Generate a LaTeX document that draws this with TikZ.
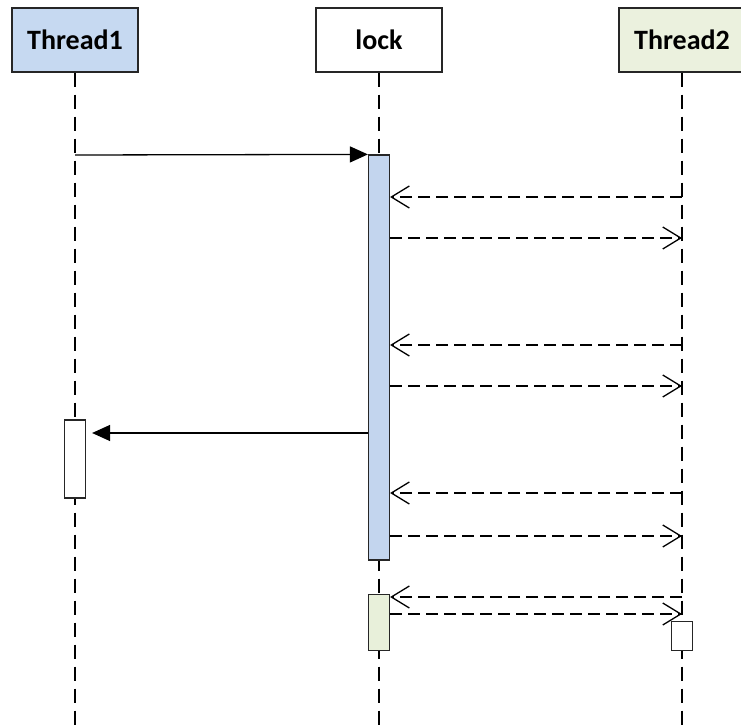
\documentclass[tikz,border=0pt]{standalone}
\usepackage{fontspec}
\setmainfont{Carlito}
\usetikzlibrary{arrows.meta}
\definecolor{hdrblue}{HTML}{C6D9F1}
\definecolor{hdrgreen}{HTML}{EBF1DE}
\definecolor{barblue}{HTML}{C3D5EE}
\definecolor{bargreen}{HTML}{E8F0DA}
\definecolor{edge}{HTML}{262626}
\tikzset{
  header/.style={draw=edge, line width=1.3pt, minimum width=126pt, minimum height=64pt,
    inner sep=0pt, font=\fontsize{28}{32}\selectfont\bfseries},
  lifeline/.style={draw=black, line width=1.3pt, dash pattern=on 14pt off 8pt},
  actbar/.style={draw=edge, line width=1.2pt, minimum width=21pt, inner sep=0pt},
  callmsg/.style={draw=black, line width=1.3pt, -{Triangle[length=18pt,width=16pt]}},
  replymsg/.style={draw=black, line width=1.3pt, dash pattern=on 12pt off 6pt,
    -{Straight Barb[length=18pt,width=22pt,line width=1.3pt]}},
}
\begin{document}
\begin{tikzpicture}[x=1pt, y=-1pt]
\useasboundingbox (0,0) rectangle (741,727);
\fill[white] (0,0) rectangle (741,727);

% participant headers
\node[header, fill=hdrblue]  (t1)   at (75,40)  {Thread1};
\node[header, fill=white]    (lock) at (379,40) {lock};
\node[header, fill=hdrgreen] (t2)   at (682,40) {Thread2};

% lifeline ends
\coordinate (t1end)   at (75,727);
\coordinate (lockend) at (379,727);
\coordinate (t2end)   at (682,727);

\draw[lifeline] (t1.south)   -- (t1end);
\draw[lifeline] (lock.south) -- (lockend);
\draw[lifeline] (t2.south)   -- (t2end);

% activation bars
\node[actbar, fill=barblue, minimum height=405pt]  (lockbar) at (379,357.5) {};
\node[actbar, fill=white, minimum height=78pt]     (t1bar)   at (75,459)    {};
\node[actbar, fill=bargreen, minimum height=56pt]  (lockbar2) at (379,622.5) {};
\node[actbar, fill=white, minimum height=29pt]     (t2bar)   at (682,636)   {};

% message points on the lifelines
\coordinate (c1)  at (75,155);
\coordinate (r1)  at (682,197);
\coordinate (r2)  at (682,238);
\coordinate (r3)  at (682,345);
\coordinate (r4)  at (682,386);
\coordinate (c2)  at (368,433);
\coordinate (r5)  at (682,493);
\coordinate (r6)  at (682,536);
\coordinate (r7)  at (682,597);
\coordinate (r8)  at (682,614);

% Thread1 takes the lock
\draw[callmsg] (c1) -- (lockbar.north west);

% Thread2 polls the lock while it is held
\draw[replymsg] (r1) -- (lockbar.east |- r1);
\draw[replymsg] (lockbar.east |- r2) -- (r2);
\draw[replymsg] (r3) -- (lockbar.east |- r3);
\draw[replymsg] (lockbar.east |- r4) -- (r4);
\draw[replymsg] (r5) -- (lockbar.east |- r5);
\draw[replymsg] (lockbar.east |- r6) -- (r6);

% lock hands control back to Thread1
\draw[callmsg] (c2) -- ([xshift=6pt]t1bar.east |- c2);

% Thread2 finally gets the lock
\draw[replymsg] (r7) -- (lockbar2.east |- r7);
\draw[replymsg] (lockbar2.east |- r8) -- (r8);
\end{tikzpicture}
\end{document}
